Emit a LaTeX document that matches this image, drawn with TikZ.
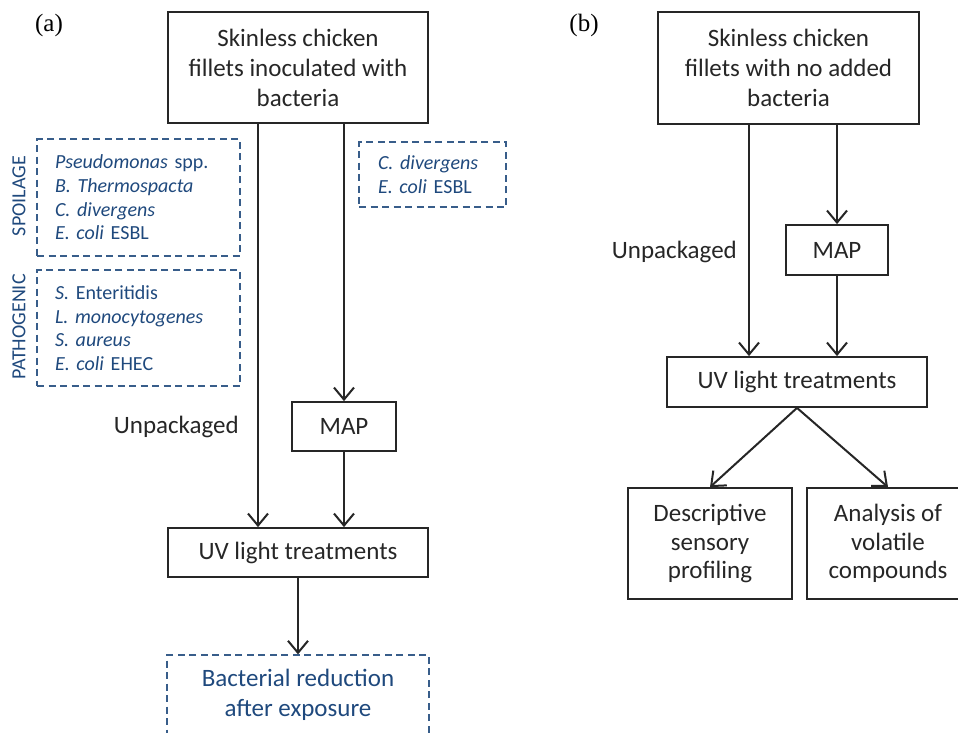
\documentclass[tikz,border=0pt]{standalone}
\usepackage{fontspec}
\setmainfont{Carlito}
\newfontfamily\serifl{Liberation Serif}
\usetikzlibrary{arrows.meta}
\definecolor{dblue}{HTML}{385D8A}
\definecolor{tblue}{HTML}{1F497D}
\definecolor{ink}{HTML}{262626}
\begin{document}
\begin{tikzpicture}[x=1pt,y=-1pt,
  box/.style={draw=ink, line width=1.8pt, inner sep=0pt, align=center, text=ink,
    font=\fontsize{25}{30}\selectfont},
  dbox/.style={draw=dblue, line width=1.3pt, dash pattern=on 7pt off 4.5pt, inner ysep=0pt,
    align=left, text=tblue, font=\fontsize{20}{23.7}\selectfont},
  sidelab/.style={rotate=90, text=tblue, font=\fontsize{20}{22}\selectfont, inner sep=0pt},
  plain/.style={text=ink, font=\fontsize{25}{28}\selectfont, inner sep=0pt},
  arr/.style={draw=ink, line width=2pt, -{Straight Barb[length=12pt,width=20pt,line width=2pt]}},
  panel/.style={font=\serifl\fontsize{25}{28}\selectfont, inner sep=0pt, text=black}
]
\useasboundingbox (0,0) rectangle (958,732);
\clip (0,0) rectangle (958,732);

% ---------- panel (a) ----------
\node[panel] (pa) at (49,25) {(a)};
\node[box, minimum width=260pt, minimum height=111pt] (topA) at (298,67.5)
  {Skinless chicken\\fillets inoculated with\\bacteria};
\node[dbox, minimum width=203pt, minimum height=117pt, text width=167pt, inner xsep=18pt] (spoil) at (138.5,197.5)
  {\textit{Pseudomonas} spp.\\\textit{B. Thermospacta}\\\textit{C. divergens}\\\textit{E. coli} ESBL};
\node[dbox, minimum width=203pt, minimum height=116pt, text width=167pt, inner xsep=18pt] (patho) at (138.5,328)
  {\textit{S.} Enteritidis\\\textit{L. monocytogenes}\\\textit{S. aureus}\\\textit{E. coli} EHEC};
\node[sidelab] (spl) at (19,196) {SPOILAGE};
\node[sidelab] (pgl) at (19,327) {PATHOGENIC};
\node[dbox, minimum width=147pt, minimum height=65pt, text width=109pt, inner xsep=19pt] (mapbac) at (432.5,174.5)
  {\textit{C. divergens}\\\textit{E. coli} ESBL};
\node[box, minimum width=104pt, minimum height=49pt] (mapA) at (344,426.5) {MAP};
\node[plain, anchor=east] (unpA) at (239,427) {Unpackaged};
\node[box, minimum width=260pt, minimum height=49pt] (uvA) at (298,552.5) {UV light treatments};
\node[box, draw=dblue, text=tblue, line width=1.3pt, dash pattern=on 7pt off 4.5pt,
  minimum width=262pt, minimum height=80pt] (bact) at (298,695) {Bacterial reduction\\after exposure};
\coordinate (la) at (258,0);
\draw[arr] (topA.south -| la) -- (uvA.north -| la);
\draw[arr] (topA.south -| mapA) -- (mapA.north);
\draw[arr] (mapA.south) -- (uvA.north -| mapA);
\draw[arr] (uvA.south) -- (bact.north);

% ---------- panel (b) ----------
\node[panel] (pb) at (584,25) {(b)};
\node[box, minimum width=261pt, minimum height=112pt] (topB) at (788.5,68)
  {Skinless chicken\\fillets with no added\\bacteria};
\node[box, minimum width=102pt, minimum height=50pt] (mapB) at (837,250) {MAP};
\node[plain, anchor=east] (unpB) at (737,252) {Unpackaged};
\node[box, minimum width=260pt, minimum height=50pt] (uvB) at (797,382) {UV light treatments};
\node[box, minimum width=164pt, minimum height=111pt, font=\fontsize{25}{28.5}\selectfont] (desc) at (710,543.5)
  {Descriptive\\sensory\\profiling};
\node[box, minimum width=162pt, minimum height=111pt, font=\fontsize{25}{28.5}\selectfont] (anal) at (888,543.5)
  {Analysis of\\volatile\\compounds};
\coordinate (lb) at (749,0);
\draw[arr] (topB.south -| lb) -- (uvB.north -| lb);
\draw[arr] (topB.south -| mapB) -- (mapB.north);
\draw[arr] (mapB.south) -- (uvB.north -| mapB);
\draw[arr] (uvB.south) -- (desc.north);
\draw[arr] (uvB.south) -- (anal.north);
\end{tikzpicture}
\end{document}
